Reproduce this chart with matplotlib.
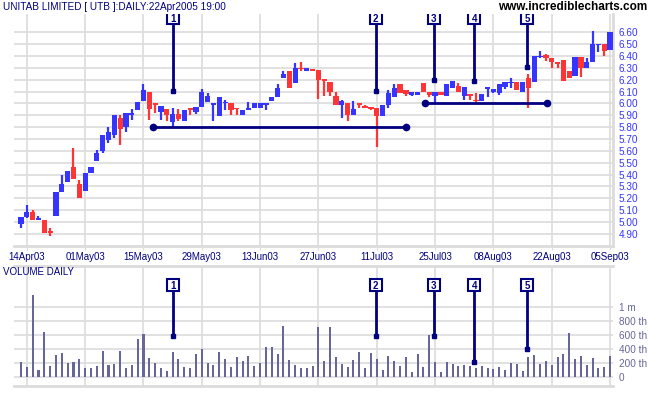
import matplotlib.pyplot as plt
import numpy as np

plt.rcParams['font.family'] = ['Liberation Sans', 'DejaVu Sans']

# bar index -1 .. 100 (one trading day per step)
opens = [4.98, 5.04, 5.08, 5.02, 5.02, 4.92, 5.05, 5.25, 5.34, 5.46, 5.32, 5.26, 5.41, 5.51, 5.60, 5.69,
         5.73, 5.88, 5.80, 5.90, 5.94, 6.02, 6.10, 6.00, 5.93, 5.95, 5.84, 5.91, 5.85, 5.96, 5.93, 5.97,
         6.01, 5.99, 5.89, 6.00, 6.00, 5.96, 5.90, 5.94, 5.96, 5.96, 5.99, 6.02, 6.05, 6.21, 6.27, 6.17,
         6.30, 6.27, 6.29, 6.28, 6.20, 6.18, 6.06, 5.99, 6.00, 5.90, 6.00, 5.98, 5.97, 5.96, 5.89, 5.99,
         6.05, 6.16, 6.11, 6.07, 6.07, 6.17, 6.10, 6.06, 6.10, 6.06, 6.13, 6.15, 6.06, 6.08, 6.03, 6.02,
         6.12, 6.10, 6.085, 6.14, 6.17, 6.18, 6.10, 6.21, 6.18, 6.39, 6.41, 6.38, 6.35, 6.37, 6.27, 6.23,
         6.39, 6.30, 6.35, 6.49, 6.50, 6.45]
highs = [5.04, 5.14, 5.10, 5.05, 5.02, 4.95, 5.25, 5.40, 5.43, 5.62, 5.35, 5.41, 5.46, 5.61, 5.73, 5.80,
         5.90, 5.90, 5.92, 5.95, 6.01, 6.16, 6.10, 6.00, 5.98, 5.95, 5.96, 5.95, 5.94, 5.96, 5.97, 6.12,
         6.09, 5.99, 6.05, 6.03, 6.00, 5.96, 5.94, 6.01, 6.00, 6.00, 6.00, 6.05, 6.16, 6.27, 6.27, 6.34,
         6.35, 6.30, 6.29, 6.28, 6.20, 6.18, 6.10, 6.03, 6.00, 6.02, 6.00, 5.985, 5.97, 5.96, 5.99, 6.11,
         6.16, 6.16, 6.11, 6.10, 6.10, 6.17, 6.10, 6.10, 6.10, 6.16, 6.19, 6.17, 6.14, 6.08, 6.09, 6.08,
         6.14, 6.12, 6.16, 6.18, 6.21, 6.18, 6.18, 6.25, 6.40, 6.44, 6.42, 6.38, 6.35, 6.37, 6.27, 6.39,
         6.39, 6.38, 6.61, 6.50, 6.50, 6.60]
lows = [4.95, 5.03, 5.02, 5.02, 4.91, 4.88, 5.05, 5.25, 5.34, 5.36, 5.20, 5.26, 5.41, 5.51, 5.58, 5.67,
        5.71, 5.65, 5.76, 5.86, 5.94, 6.02, 5.86, 5.92, 5.86, 5.85, 5.80, 5.85, 5.85, 5.90, 5.91, 5.97,
        6.01, 5.85, 5.89, 5.94, 5.90, 5.90, 5.90, 5.94, 5.96, 5.96, 5.94, 6.02, 6.05, 6.21, 6.13, 6.17,
        6.27, 6.27, 6.27, 6.04, 6.06, 6.06, 5.99, 5.88, 5.85, 5.90, 5.96, 5.96, 5.94, 5.63, 5.89, 5.96,
        6.05, 6.09, 6.06, 6.06, 6.07, 6.10, 6.05, 6.00, 6.07, 6.06, 6.13, 6.10, 6.03, 6.03, 6.015, 6.02,
        6.05, 6.085, 6.07, 6.12, 6.13, 6.11, 6.10, 5.96, 6.18, 6.38, 6.36, 6.30, 6.30, 6.19, 6.21, 6.23,
        6.22, 6.30, 6.35, 6.43, 6.40, 6.45]
closes = [5.04, 5.08, 5.02, 5.03, 4.91, 4.91, 5.25, 5.32, 5.43, 5.36, 5.20, 5.41, 5.46, 5.58, 5.73, 5.76,
          5.90, 5.78, 5.92, 5.915, 6.01, 6.11, 5.95, 5.99, 5.98, 5.90, 5.91, 5.87, 5.94, 5.94, 5.97, 6.10,
          6.06, 5.995, 6.05, 6.01, 5.94, 5.95, 5.94, 5.96, 6.00, 6.00, 6.00, 6.05, 6.13, 6.25, 6.13, 6.30,
          6.29, 6.30, 6.27, 6.20, 6.19, 6.10, 5.99, 6.02, 5.90, 5.95, 5.985, 5.96, 5.95, 5.89, 5.99, 6.09,
          6.13, 6.09, 6.08, 6.10, 6.10, 6.10, 6.07, 6.10, 6.07, 6.16, 6.19, 6.10, 6.14, 6.06, 6.02, 6.08,
          6.135, 6.12, 6.16, 6.18, 6.18, 6.11, 6.18, 6.13, 6.40, 6.40, 6.38, 6.35, 6.33, 6.19, 6.21, 6.39,
          6.30, 6.35, 6.50, 6.50, 6.44, 6.60]
# volume in thousands
volume = [214, 143, 1171, 95, 638, 152, 314, 343, 200, 214, 257, 128, 128, 157, 371, 171, 186, 371,
          124, 171, 538, 610, 267, 200, 124, 86, 352, 252, 138, 124, 324, 395, 200, 171, 352, 252,
          143, 281, 224, 295, 152, 200, 424, 424, 329, 729, 238, 167, 124, 124, 152, 710, 224,
          710, 281, 181, 143, 238, 352, 124, 338, 252, 95, 295, 224, 152, 281, 71, 324, 138, 595,
          210, 71, 210, 181, 152, 167, 152, 124, 152, 124, 110, 138, 95, 195, 181, 81, 281, 310,
          181, 224, 167, 281, 324, 624, 252, 295, 167, 267, 124, 138, 295]

date_ticks = [0, 10, 20, 30, 40, 50, 60, 70, 80, 90, 100]
date_labels = ['14Apr03', '01May03', '15May03', '29May03', '13Jun03', '27Jun03',
               '11Jul03', '25Jul03', '08Aug03', '22Aug03', '05Sep03']
price_ticks = np.round(np.arange(4.9, 6.61, 0.1), 2)
vol_ticks = [0, 200, 400, 600, 800, 1000]
vol_labels = ['0', '200 th', '400 th', '600 th', '800 th', '1 m']

# numbered signals: bar position, end of line on price panel, end on volume panel
sig_num = ['1', '2', '3', '4', '5']
sig_x = [25, 59.8, 69.8, 76.7, 85.8]
sig_price_end = [6.105, 6.105, 6.197, 6.19, 6.307]
sig_vol_end = [586, 586, 586, 214, 400]
# support lines: (x start, x end, level)
sup_x0 = [21.7, 68.2]
sup_x1 = [65.0, 89.1]
sup_y = [5.80, 6.00]

navy = '#000080'
blue = '#3535ff'
red = '#ff3535'
grid = '#dcdcdc'

x = np.arange(-1, len(opens) - 1)
o, h, l, c = map(np.array, (opens, highs, lows, closes))
cols = np.where(c >= o, blue, red)

W, H = 651, 395
fig = plt.figure(figsize=(W / 100, H / 100), dpi=100)
xl = (-2.2, 100.5)

def px_axes(left, top, right, bottom):
    return fig.add_axes([left / W, 1 - bottom / H, (right - left) / W, (bottom - top) / H])

def signal(axis, sx, y0, y1, n):
    axis.plot([sx, sx], [y0, y1], color=navy, lw=2, zorder=4)
    axis.plot(sx, y0, 's', color=navy, ms=2.5, zorder=4)
    axis.plot(sx, y1, 's', ms=8, mfc='white', mec=navy, mew=1.5, zorder=5)
    axis.text(sx, y1, n, ha='center', va='center_baseline', fontsize=7, fontweight='bold',
              color=navy, zorder=6)

ax = px_axes(14, 14, 613, 246)
ax.set_xlim(*xl)
ax.set_ylim(4.797, 6.754)
ax.set_yticks(price_ticks)
ax.set_yticklabels([f'{v:.2f}' for v in price_ticks])
ax.set_xticks(date_ticks)
ax.set_xticklabels(date_labels)
ax.grid(True, color=grid, lw=1.2)
ax.set_axisbelow(True)
ax.yaxis.tick_right()
ax.tick_params(axis='y', length=0, pad=4, labelsize=7.2, labelcolor=blue)
ax.tick_params(axis='x', length=3, color=grid, pad=1.5, labelsize=7, labelcolor=navy)
for s in ['left', 'top']:
    ax.spines[s].set_visible(False)
for s in ['bottom', 'right']:
    ax.spines[s].set_color(grid)
    ax.spines[s].set_linewidth(2)

ax.vlines(x, l, h, colors=cols, lw=1.6, zorder=3)
body = np.maximum(np.abs(c - o), 0.012)
ax.bar(x, body, bottom=np.minimum(o, c), width=0.9, color=cols, zorder=3)

for n, sx, se in zip(sig_num, sig_x, sig_price_end):
    signal(ax, sx, se, 6.72, n)
for a, b, y in zip(sup_x0, sup_x1, sup_y):
    ax.plot([a, b], [y, y], color=navy, lw=2, marker='o', ms=4.5, zorder=4)

axv = px_axes(14, 266, 613, 386)
axv.set_xlim(*xl)
axv.set_ylim(-129, 1586)
axv.set_xticks(date_ticks)
axv.set_xticklabels([])
axv.set_yticks(vol_ticks)
axv.set_yticklabels(vol_labels)
axv.grid(True, color=grid, lw=1.2)
axv.set_axisbelow(True)
axv.yaxis.tick_right()
axv.tick_params(axis='y', length=0, pad=4, labelsize=7.2, labelcolor='#666699')
axv.tick_params(axis='x', length=0)
for s in ['left', 'right']:
    axv.spines[s].set_visible(False)
for s in ['top', 'bottom']:
    axv.spines[s].set_color(grid)
    axv.spines[s].set_linewidth(2)
axv.bar(x, volume, width=0.35, color='#66669a', zorder=3)

for n, sx, se in zip(sig_num, sig_x, sig_vol_end):
    signal(axv, sx, se, 1314, n)

fig.text(3 / W, 1 - 7 / H, 'UNITAB LIMITED [ UTB ]:DAILY:22Apr2005 19:00', fontsize=7.2,
         color=navy, va='center', ha='left')
fig.text(647 / W, 1 - 7 / H, 'www.incrediblecharts.com', fontsize=8.5, fontweight='bold',
         color='black', va='center', ha='right')
fig.text(3 / W, 1 - 272 / H, 'VOLUME DAILY', fontsize=7, color=navy, va='center', ha='left')

fig.savefig('out.png', dpi=100)
